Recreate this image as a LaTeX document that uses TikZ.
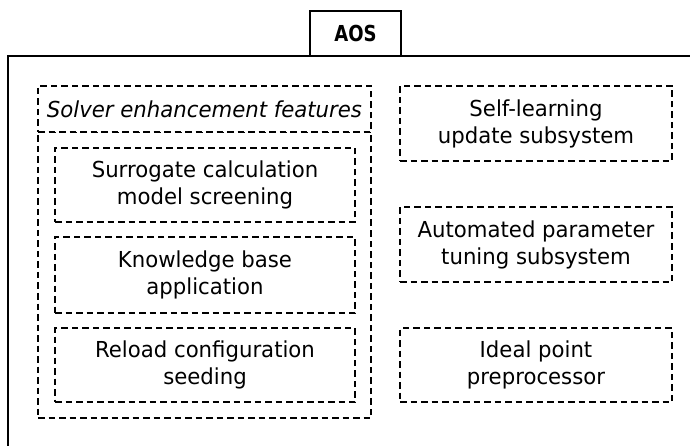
\documentclass[tikz,border=0pt]{standalone}
\usepackage{fontspec}
\setmainfont[FakeStretch=0.965]{DejaVu Sans}
\newfontfamily\headfont[FakeStretch=0.82]{DejaVu Sans}
\begin{document}
\begin{tikzpicture}[x=1pt,y=-1pt,
  frame/.style={line width=1.6pt},
  dashline/.style={dash pattern=on 6.5pt off 4pt,line width=1.4pt},
  dbox/.style={draw,dashline,rectangle,inner sep=0pt,align=center,
    font=\fontsize{22}{27}\selectfont},
  leftbox/.style={dbox,minimum width=300pt},
  rightbox/.style={dbox,minimum width=272pt}]
\useasboundingbox (0,0) rectangle (690,446);

% outer system frame (right and bottom run off the page)
\draw[frame] (8,460) -- (8,56) -- (700,56);

% title tab
\node[frame,draw,fill=white,rectangle,inner sep=0pt,
  minimum width=91pt,minimum height=45pt,
  font=\headfont\bfseries\fontsize{22}{27}\selectfont]
  (aos) at (355.5,33.5) {AOS};

% solver enhancement group: body, with the heading box laid over its top edge
\node[dbox,minimum width=333pt,minimum height=286pt] (group) at (204.5,275) {};
\node[dbox,fill=white,minimum width=333pt,minimum height=46pt,
  font=\itshape\fontsize{22}{27}\selectfont] (title) at (204.5,109)
  {Solver enhancement features};

\node[leftbox,minimum height=74pt] (surr) at (205,185)
  {Surrogate calculation\\model screening};
\node[leftbox,minimum height=76pt] (kb) at (205,275)
  {Knowledge base\\application};
\node[leftbox,minimum height=74pt] (reload) at (205,365)
  {Reload configuration\\seeding};

% independent subsystems
\node[rightbox,minimum height=75pt] (self) at (536,123.5)
  {Self-learning\\update subsystem};
\node[rightbox,minimum height=75pt] (tune) at (536,244.5)
  {Automated parameter\\tuning subsystem};
\node[rightbox,minimum height=74pt] (ideal) at (536,365)
  {Ideal point\\preprocessor};
\end{tikzpicture}
\end{document}
